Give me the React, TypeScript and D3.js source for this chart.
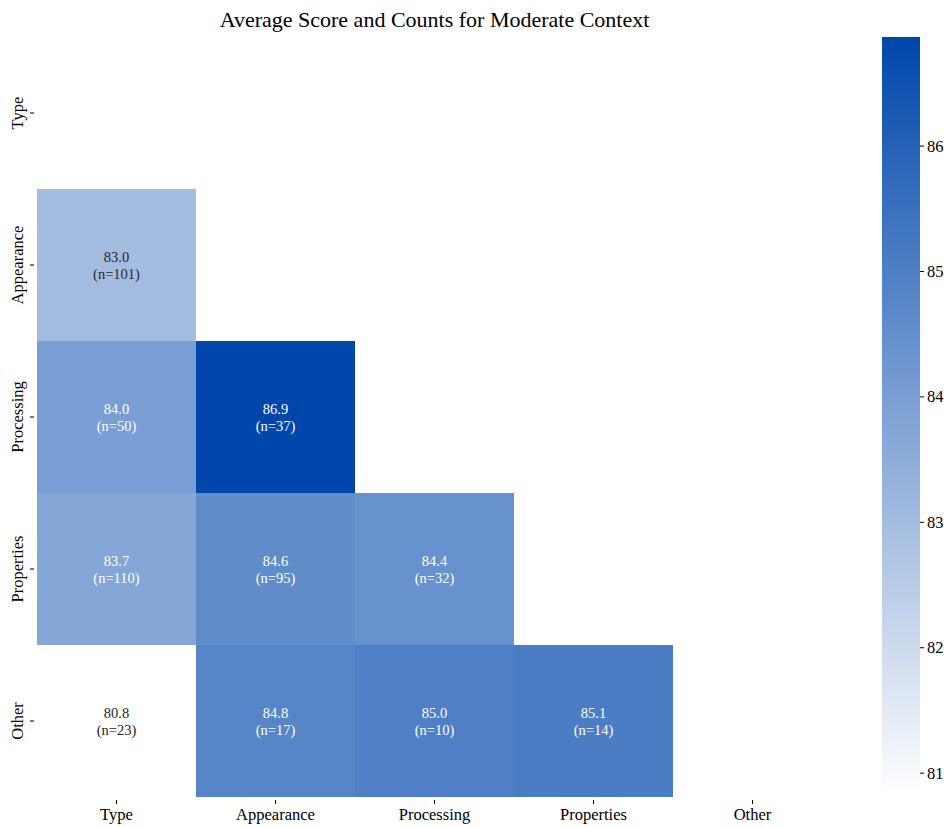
import React from "react";
import * as d3 from "d3";

const categories = ["Type", "Appearance", "Processing", "Properties", "Other"];
// lower-triangle cells: [rowIndex, colIndex]
const cellRows = [1, 2, 2, 3, 3, 3, 4, 4, 4, 4];
const cellCols = [0, 0, 1, 0, 1, 2, 0, 1, 2, 3];
const scores = [83.0, 84.0, 86.9, 83.7, 84.6, 84.4, 80.8, 84.8, 85.0, 85.1];
const counts = [101, 50, 37, 110, 95, 32, 23, 17, 10, 14];
const colorbarTicks = [81, 82, 83, 84, 85, 86];
const title = "Average Score and Counts for Moderate Context";

const W = 950;
const H = 827;
const left = 37;
const right = 832;
const top = 37;
const bottom = 797;
const cbX = 882;
const cbW = 38;
const font = "'Liberation Serif', 'Times New Roman', serif";

function luminance(c: string) {
  const rgb = d3.rgb(c);
  const f = (v: number) => {
    const s = v / 255;
    return s <= 0.03928 ? s / 12.92 : Math.pow((s + 0.055) / 1.055, 2.4);
  };
  return 0.2126 * f(rgb.r) + 0.7152 * f(rgb.g) + 0.0722 * f(rgb.b);
}

export default function App() {
  const x = d3.scaleBand<string>().domain(categories).range([left, right]);
  const y = d3.scaleBand<string>().domain(categories).range([top, bottom]);
  const lo = 80.81;
  const hi = 86.87;
  const color = d3.scaleLinear<string>().domain([lo, hi]).range(["#ffffff", "#0047ab"]).interpolate(d3.interpolateRgb);
  const cbY = d3.scaleLinear().domain([lo, hi]).range([bottom, top]);
  const stops = d3.range(0, 1.0001, 0.05);

  return (
    <svg width={W} height={H} style={{ display: "block", position: "absolute", left: 0, top: 0 }} fontFamily={font}>
      <rect width={W} height={H} fill="#fff" />
      <text x={(left + right) / 2} y={27} textAnchor="middle" fontSize={22} fill="#000">{title}</text>
      {scores.map((s, i) => {
        const r = categories[cellRows[i]];
        const c = categories[cellCols[i]];
        const cx = (x(c) as number) + x.bandwidth() / 2;
        const cy = (y(r) as number) + y.bandwidth() / 2;
        const tc = luminance(color(s)) > 0.408 ? "#262626" : "#ffffff";
        return (
          <g key={i}>
            <rect x={x(c)} y={y(r)} width={x.bandwidth()} height={y.bandwidth()} fill={color(s)} />
            <text x={cx} y={cy - 3} textAnchor="middle" fontSize={14.5} fill={tc}>{s.toFixed(1)}</text>
            <text x={cx} y={cy + 14} textAnchor="middle" fontSize={14.5} fill={tc}>{`(n=${counts[i]})`}</text>
          </g>
        );
      })}
      {categories.map((c) => {
        const cx = (x(c) as number) + x.bandwidth() / 2;
        return (
          <g key={"x" + c}>
            <line x1={cx} x2={cx} y1={bottom + 3} y2={bottom + 7} stroke="#000" strokeWidth={1} />
            <text x={cx} y={bottom + 23} textAnchor="middle" fontSize={16.5} fill="#000">{c}</text>
          </g>
        );
      })}
      {categories.map((c) => {
        const cy = (y(c) as number) + y.bandwidth() / 2;
        return (
          <g key={"y" + c}>
            <line x1={left - 7} x2={left - 3} y1={cy} y2={cy} stroke="#000" strokeWidth={1} />
            <text transform={`translate(23,${cy}) rotate(-90)`} textAnchor="middle" fontSize={16.5} fill="#000">{c}</text>
          </g>
        );
      })}
      <defs>
        <linearGradient id="cbgrad" x1="0" y1="1" x2="0" y2="0">
          {stops.map((t) => (
            <stop key={t} offset={t} stopColor={color(lo + t * (hi - lo))} />
          ))}
        </linearGradient>
      </defs>
      <rect x={cbX} y={top} width={cbW} height={bottom - top} fill="url(#cbgrad)" />
      {colorbarTicks.map((t) => (
        <g key={"cb" + t}>
          <line x1={cbX + cbW} x2={cbX + cbW + 4} y1={cbY(t)} y2={cbY(t)} stroke="#000" strokeWidth={1} />
          <text x={cbX + cbW + 7} y={cbY(t) + 5.5} fontSize={16.5} fill="#000">{t}</text>
        </g>
      ))}
    </svg>
  );
}
